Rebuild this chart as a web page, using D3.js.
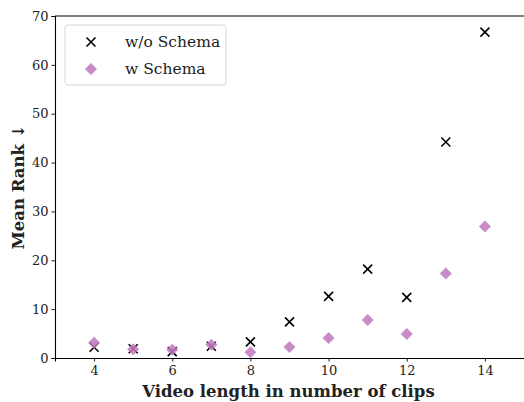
<!DOCTYPE html>
<html><head><meta charset="utf-8">
<script src="https://cdn.jsdelivr.net/npm/d3@7"></script>
<style>body{margin:0;background:#fff}svg{display:block}</style>
</head><body>
<svg id="c" width="524" height="402"></svg>
<script>
const clips = [4,5,6,7,8,9,10,11,12,13,14];
const withoutSchema = [2.2,1.9,1.3,2.4,3.3,7.4,12.6,18.2,12.4,44.2,66.7];
const withSchema = [3.1,1.8,1.7,2.7,1.2,2.25,4.1,7.8,4.9,17.3,26.9];
const xTicks = [4,6,8,10,12,14];
const yTicks = [0,10,20,30,40,50,60,70];
const seriesNames = ["w/o Schema","w Schema"];

const svg = d3.select("#c");
const L=55, R=524, T=16, B=358;
const x = d3.scaleLinear().domain([3,15]).range([L,R]);
const y = d3.scaleLinear().domain([0,70]).range([B,T]);
const font = "'DejaVu Serif', serif";
const purple = "#bf78bf";

const gx = svg.append("g").attr("transform",`translate(0,${B})`)
  .call(d3.axisBottom(x).tickValues(xTicks).tickSize(3.5).tickPadding(4).tickFormat(d3.format("d")));
const gy = svg.append("g").attr("transform",`translate(${L},0)`)
  .call(d3.axisLeft(y).tickValues(yTicks).tickSize(3.5).tickPadding(3).tickFormat(d3.format("d")));
[gx,gy].forEach(g=>{
  g.attr("font-family",font).attr("font-size",13);
  g.select(".domain").attr("stroke","#000").attr("stroke-width",1.1);
  g.selectAll(".tick line").attr("stroke","#000").attr("stroke-width",0.9);
  g.selectAll("text").attr("fill","#222");
});
svg.append("line").attr("x1",L).attr("x2",R).attr("y1",T).attr("y2",T).attr("stroke","#000").attr("stroke-width",1.1);

// markers
const xs = 4.5;
const cross = d => `M${-xs},${-xs}L${xs},${xs}M${-xs},${xs}L${xs},${-xs}`;
svg.append("g").selectAll("path").data(clips).join("path")
  .attr("transform",(d,i)=>`translate(${x(d)},${y(withoutSchema[i])})`)
  .attr("d",cross).attr("stroke","#000").attr("stroke-width",1.6).attr("fill","none");
const ds = 6;
const diamond = `M0,${-ds}L${ds},0L0,${ds}L${-ds},0Z`;
svg.append("g").selectAll("path").data(clips).join("path")
  .attr("transform",(d,i)=>`translate(${x(d)},${y(withSchema[i])})`)
  .attr("d",diamond).attr("fill",purple).attr("fill-opacity",0.85);

// legend
const lg = svg.append("g");
lg.append("rect").attr("x",65).attr("y",25).attr("width",161).attr("height",60).attr("rx",3)
  .attr("fill","#fff").attr("fill-opacity",0.8).attr("stroke","#d6d6d6").attr("stroke-width",1);
lg.append("path").attr("transform","translate(91,42)").attr("d",cross).attr("stroke","#000").attr("stroke-width",1.6);
lg.append("path").attr("transform","translate(91,69)").attr("d",diamond).attr("fill",purple).attr("fill-opacity",0.85);
seriesNames.forEach((n,i)=>{
  lg.append("text").attr("x",125).attr("y",42+27*i).attr("dy","0.35em")
    .attr("font-family",font).attr("font-size",15.5).attr("fill","#222").text(n);
});

svg.append("text").attr("x",(L+R)/2 - 1).attr("y",397).attr("text-anchor","middle")
  .attr("font-family",font).attr("font-weight","bold").attr("font-size",16.5).attr("fill","#222")
  .text("Video length in number of clips");
svg.append("text").attr("transform",`translate(24,${(T+B)/2}) rotate(-90)`).attr("text-anchor","middle")
  .attr("font-family",font).attr("font-weight","bold").attr("font-size",16.5).attr("fill","#222")
  .text("Mean Rank ↓");
</script>
</body></html>
